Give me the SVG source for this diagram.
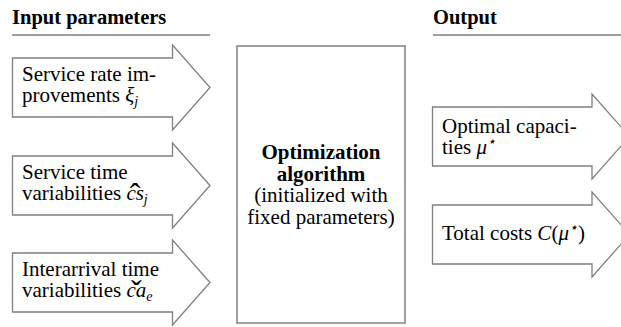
<svg xmlns="http://www.w3.org/2000/svg" width="621" height="327" viewBox="0 0 621 327">
<style>
.arrow{fill:#fff;stroke:#808080;stroke-width:1.3;stroke-linejoin:miter}
.box{fill:#fff;stroke:#808080;stroke-width:1.5}
.rule{stroke:#808080;stroke-width:1.3}
.t{font-family:"Liberation Serif","Times New Roman",serif;font-size:21px;fill:#000}
.h{font-family:"Liberation Serif","Times New Roman",serif;font-size:20.5px;font-weight:bold;fill:#000}
.b{font-weight:bold}
.m{font-style:italic}
.s{font-size:14px;font-style:italic}
.acc{font-size:32px}
</style>
<rect width="621" height="327" fill="#fff"/>
<g id="heading-input">
<text class="h" x="12" y="24">Input parameters</text>
<line class="rule" x1="12" y1="35" x2="210" y2="35"/>
</g>
<g id="heading-output">
<text class="h" x="433" y="24">Output</text>
<line class="rule" x1="433" y1="35" x2="621" y2="35"/>
</g>
<g id="input-service-rate">
<path class="arrow" d="M12.5,58 H172.5 V45 L210,87.5 L172.5,130 V117 H12.5 Z"/>
<text class="t" x="22" y="81">Service rate im-</text>
<text class="t" x="22" y="102">provements <tspan class="m">ξ</tspan><tspan class="s" dy="4">j</tspan></text>
</g>
<g id="input-service-time">
<path class="arrow" d="M12.5,156 H172.5 V143 L210,185.5 L172.5,228 V215 H12.5 Z"/>
<text class="t" x="22" y="179">Service time</text>
<text class="t" x="22" y="200">variabilities <tspan class="m">cs</tspan><tspan class="acc" dx="-14.1" dy="5">ˆ</tspan><tspan class="s" dx="3.4" dy="-1">j</tspan></text>
</g>
<g id="input-interarrival">
<path class="arrow" d="M12.5,253 H172.5 V240 L210,282.5 L172.5,325 V312 H12.5 Z"/>
<text class="t" x="22" y="276">Interarrival time</text>
<text class="t" x="22" y="297">variabilities <tspan class="m">ca</tspan><tspan class="acc" dx="-15.2" dy="5">ˇ</tspan><tspan class="s" dx="4.5" dy="-1">e</tspan></text>
</g>
<g id="optimization-algorithm">
<rect class="box" x="237" y="46" width="168" height="277"/>
<text class="t" x="321" y="159" text-anchor="middle"><tspan class="b">Optimization</tspan></text>
<text class="t" x="321" y="180.5" text-anchor="middle"><tspan class="b">algorithm</tspan></text>
<text class="t" x="321" y="202" text-anchor="middle">(initialized with</text>
<text class="t" x="321" y="223.5" text-anchor="middle">fixed parameters)</text>
</g>
<g id="output-capacities">
<path class="arrow" d="M432.5,107 H592 V94 L629.5,136.5 L592,179 V166 H432.5 Z"/>
<text class="t" x="442" y="133">Optimal capaci-</text>
<text class="t" x="442" y="154">ties <tspan class="m">μ</tspan><tspan class="s" dy="-8">⋆</tspan></text>
</g>
<g id="output-costs">
<path class="arrow" d="M432.5,205 H592 V192 L629.5,234.5 L592,277 V264 H432.5 Z"/>
<text class="t" x="442" y="240">Total costs <tspan class="m">C</tspan>(<tspan class="m">μ</tspan><tspan class="s" dy="-8">⋆</tspan><tspan dy="8">)</tspan></text>
</g>
<g id="connectors"/>
</svg>
